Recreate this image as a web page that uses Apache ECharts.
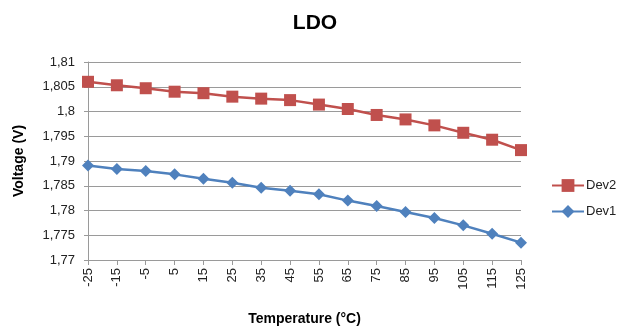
<!DOCTYPE html>
<html>
<head>
<meta charset="utf-8">
<script src="https://cdn.jsdelivr.net/npm/echarts@6/dist/echarts.min.js"></script>
<style>
  html, body { margin: 0; padding: 0; background: #fff; }
  #chart { width: 628px; height: 331px; }
</style>
</head>
<body>
<div id="chart"></div>
<script>
// temperatures (°C)
const temps = ["-25", "-15", "-5", "5", "15", "25", "35", "45", "55", "65", "75", "85", "95", "105", "115", "125"];
const dev2 = [1.806, 1.8053, 1.8047, 1.804, 1.8037, 1.803, 1.8026, 1.8023, 1.8014, 1.8005, 1.7993, 1.7984, 1.7972, 1.7957, 1.7943, 1.7922];
const dev1 = [1.7891, 1.7884, 1.788, 1.7873, 1.7864, 1.7856, 1.7846, 1.784, 1.7833, 1.782, 1.7809, 1.7797, 1.7785, 1.777, 1.7753, 1.7735];

let chart = echarts.init(document.getElementById("chart"));
const font = "Liberation Sans";

let option = {
  animation: false,
  textStyle: { fontFamily: font },
  title: {
    text: "LDO",
    left: 310,
    textAlign: "center",
    top: 8,
    textStyle: { fontSize: 21, fontWeight: "bold", color: "#000", fontFamily: font }
  },
  legend: {
    orient: "vertical",
    left: 546,
    top: 174,
    itemWidth: 32,
    itemHeight: 16,
    itemGap: 13,
    data: ["Dev2", "Dev1"],
    textStyle: { fontSize: 13, color: "#222", fontFamily: font, padding: [0, 0, 0, -3] }
  },
  grid: { left: 88, right: 107, top: 62, bottom: 64 },
  xAxis: {
    type: "category",
    boundaryGap: false,
    data: temps,
    name: "Temperature (°C)",
    nameLocation: "middle",
    nameGap: 52,
    nameTextStyle: { fontSize: 14, fontWeight: "bold", color: "#000" },
    axisLine: { lineStyle: { color: "#9a9a9a", width: 1 } },
    axisTick: { show: true, alignWithLabel: true, length: 5, lineStyle: { color: "#9a9a9a" } },
    axisLabel: { rotate: 90, fontSize: 13, color: "#222", margin: 8, interval: 0 },
    splitLine: { show: false }
  },
  yAxis: {
    type: "value",
    min: 1.77,
    max: 1.81,
    interval: 0.005,
    name: "Voltage (V)",
    nameLocation: "middle",
    nameGap: 62,
    nameTextStyle: { fontSize: 14, fontWeight: "bold", color: "#000" },
    axisLine: { show: true, lineStyle: { color: "#9a9a9a", width: 1 } },
    axisTick: { show: true, length: 4, lineStyle: { color: "#9a9a9a" } },
    axisLabel: {
      fontSize: 13,
      color: "#222",
      margin: 13,
      formatter: v => parseFloat(v.toFixed(3)).toString().replace(".", ",")
    },
    splitLine: { lineStyle: { color: "#9a9a9a", width: 1 } }
  },
  series: [
    {
      name: "Dev2",
      type: "line",
      data: dev2,
      symbol: "rect",
      symbolSize: 12,
      lineStyle: { color: "#C0504D", width: 2.5 },
      itemStyle: { color: "#C0504D" }
    },
    {
      name: "Dev1",
      type: "line",
      data: dev1,
      symbol: "diamond",
      symbolSize: 12,
      lineStyle: { color: "#4F81BD", width: 2.5 },
      itemStyle: { color: "#4F81BD" }
    }
  ]
};
chart.setOption(option);
</script>
</body>
</html>
